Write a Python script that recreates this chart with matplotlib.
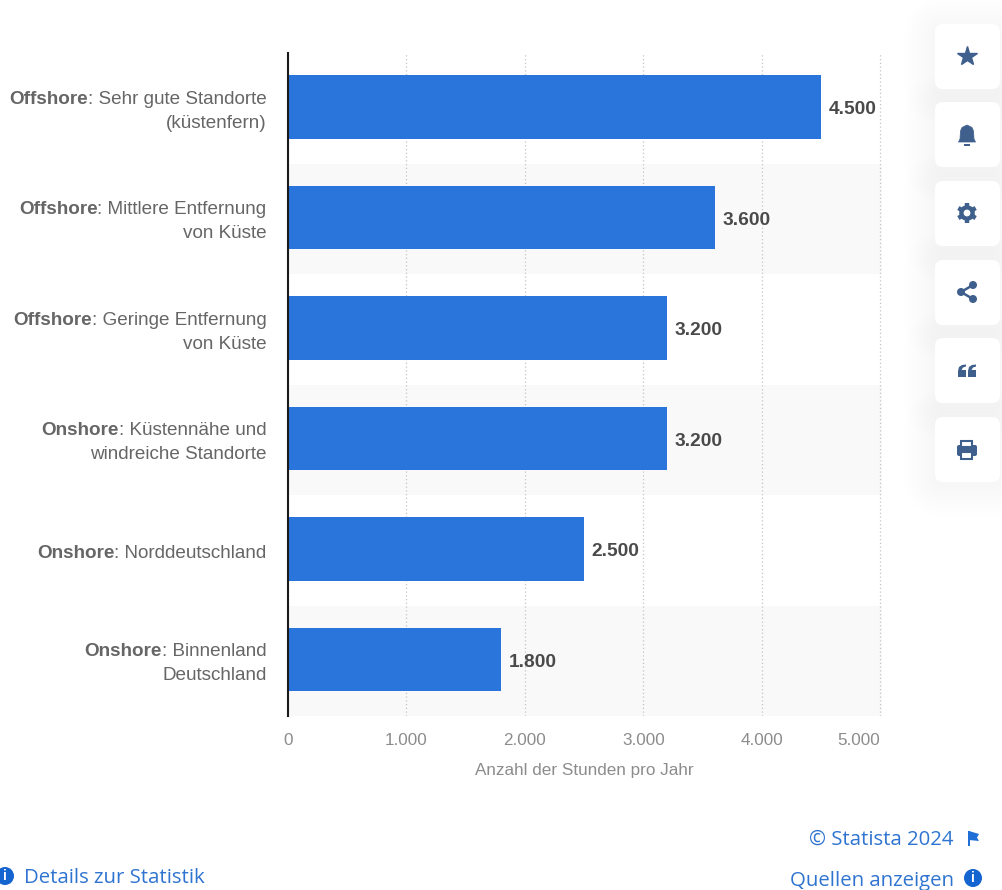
import matplotlib
matplotlib.use('Agg')
import matplotlib.pyplot as plt
from matplotlib.patches import Circle, FancyBboxPatch, Polygon, Rectangle
import numpy as np

# Volllaststunden je Standort
site_type = ['Offshore', 'Offshore', 'Offshore', 'Onshore', 'Onshore', 'Onshore']
site_line1 = [': Sehr gute Standorte', ': Mittlere Entfernung', ': Geringe Entfernung',
              ': Küstennähe und', ': Norddeutschland', ': Binnenland']
site_line2 = ['(küstenfern)', 'von Küste', 'von Küste', 'windreiche Standorte', '', 'Deutschland']
hours = [4500, 3600, 3200, 3200, 2500, 1800]
x_ticks = [0, 1000, 2000, 3000, 4000, 5000]
x_tick_labels = ['0', '1.000', '2.000', '3.000', '4.000', '5.000']

BLUE = '#2a75dc'
LINK = '#2f74d0'
ICON = '#3f5f8c'
W, H = 1002, 890

plt.rcParams['font.family'] = ['Liberation Sans', 'DejaVu Sans']

fig = plt.figure(figsize=(W / 100, H / 100), dpi=100, facecolor='white')

# overlay in pixel coordinates for the side buttons and footer
overlay = fig.add_axes([0, 0, 1, 1], zorder=0)
overlay.set_xlim(0, W)
overlay.set_ylim(H, 0)
overlay.axis('off')

ax = fig.add_axes([288 / W, 1 - 716 / H, (882 - 288) / W, (716 - 53) / H], zorder=1)
ax.patch.set_alpha(0)

# alternating row bands
for i in range(1, len(hours), 2):
    ax.axhspan(i - 0.5, i + 0.5, color='#f9f9f9', lw=0, zorder=0)

# bars sit a touch above the middle of their row
bar_pos = np.arange(len(hours)) - 0.012
ax.barh(bar_pos, hours, height=0.572, color=BLUE, zorder=2)
ax.set_xlim(0, 5013)
ax.set_ylim(5.5, -0.5)

ax.set_xticks(x_ticks)
ax.set_xticklabels(x_tick_labels, fontsize=12.3, color='#8c8c8c')
# the last tick label stays inside the plot area
ax.get_xticklabels()[-1].set_ha('right')
ax.set_yticks([])
ax.tick_params(axis='x', length=0, pad=12.5)
ax.set_xlabel('Anzahl der Stunden pro Jahr', fontsize=12.3, color='#8c8c8c', labelpad=10.5, x=0.499)
ax.grid(axis='x', color='#c4c4c4', linestyle=(0, (1, 2)), linewidth=0.9, zorder=1)
ax.set_axisbelow(True)

for side in ['top', 'right', 'bottom']:
    ax.spines[side].set_visible(False)
ax.spines['left'].set_color('#1a1a1a')
ax.spines['left'].set_linewidth(1.5)
ax.spines['left'].set_zorder(5)

# value labels behind the bar ends
for i, v in enumerate(hours):
    ax.annotate(f'{v:,}'.replace(',', '.'), (v, i), xytext=(5.5, -1), textcoords='offset points',
                va='center', ha='left', fontsize=13.8, fontweight='bold', color='#4a4a4a', zorder=6)

# category labels, bold site type in front of the regular description
renderer = fig.canvas.get_renderer()
right_pt = -21.5 * 0.72
for i in range(len(hours)):
    if site_line2[i]:
        y1, y2 = -9, 15
    else:
        y1, y2 = 3, 3
    rest = ax.annotate(site_line1[i], (0, i), xycoords=('axes fraction', 'data'),
                       xytext=(right_pt, -y1 * 0.72), textcoords='offset points',
                       ha='right', va='center', fontsize=13.6, color='#666666', annotation_clip=False)
    width = rest.get_window_extent(renderer).width * 0.72
    ax.annotate(site_type[i], (0, i), xycoords=('axes fraction', 'data'),
                xytext=(right_pt - width, -y1 * 0.72), textcoords='offset points',
                ha='right', va='center', fontsize=13.6, fontweight='bold', color='#666666',
                annotation_clip=False)
    if site_line2[i]:
        ax.annotate(site_line2[i], (0, i), xycoords=('axes fraction', 'data'),
                    xytext=(right_pt, -y2 * 0.72), textcoords='offset points',
                    ha='right', va='center', fontsize=13.6, color='#666666', annotation_clip=False)

# side buttons with a soft shadow
button_tops = [24, 102, 181, 260, 338, 417]
for top in button_tops:
    for grow in [30, 26, 22, 18, 14, 10, 6, 3]:
        overlay.add_patch(FancyBboxPatch((935 - grow, top + 4 - grow), 65 + 2 * grow, 65 + 2 * grow,
                                         boxstyle=f'round,pad=0,rounding_size={10 + grow}',
                                         fc='#3a4a70', ec='none', alpha=0.004, zorder=1))
for top in button_tops:
    overlay.add_patch(FancyBboxPatch((935, top), 65, 65, boxstyle='round,pad=0,rounding_size=8',
                                     fc='white', ec='none', zorder=2))

# star
overlay.plot([967], [56], marker='*', ms=15, color=ICON, mec=ICON, mew=1, zorder=3)

# bell
overlay.add_patch(Polygon([(958.5, 142), (960, 139), (960.5, 131), (962, 127.5), (967, 125), (972, 127.5),
                           (973.5, 131), (974, 139), (975.5, 142)], closed=True, fc=ICON, ec=ICON,
                          lw=0.5, joinstyle='round', zorder=3))
overlay.add_patch(Rectangle((964, 144), 6, 2, fc=ICON, ec='none', zorder=3))

# gear
for deg in range(0, 180, 60):
    a = np.radians(deg + 30)
    overlay.plot([967 - 10 * np.cos(a), 967 + 10 * np.cos(a)],
                 [213 - 10 * np.sin(a), 213 + 10 * np.sin(a)],
                 color=ICON, lw=3.2, solid_capstyle='butt', zorder=3)
overlay.add_patch(Circle((967, 213), 7.8, fc=ICON, ec='none', zorder=3))
overlay.add_patch(Circle((967, 213), 3.4, fc='white', ec='none', zorder=4))

# share
overlay.plot([973, 961, 973], [285, 292, 299], color=ICON, lw=1.8, zorder=3)
for cx, cy in [(973, 285), (961, 292), (973, 299)]:
    overlay.add_patch(Circle((cx, cy), 4, fc=ICON, ec='none', zorder=4))

# quotation mark
for x0 in [958, 968]:
    overlay.add_patch(Polygon([(x0, 371), (x0 + 1, 367), (x0 + 4, 365), (x0 + 8, 364.5), (x0 + 8, 366.5),
                               (x0 + 5, 367.5), (x0 + 3.5, 370), (x0 + 8, 370), (x0 + 8, 377), (x0, 377)],
                              closed=True, fc=ICON, ec='none', zorder=3))

# printer
overlay.add_patch(FancyBboxPatch((957, 445), 20, 11, boxstyle='round,pad=0,rounding_size=2',
                                 fc=ICON, ec='none', zorder=3))
overlay.add_patch(Rectangle((961.5, 440.5), 11, 6, fc='white', ec=ICON, lw=1.5, zorder=3))
overlay.add_patch(Rectangle((961.5, 452), 11, 6.5, fc='white', ec=ICON, lw=1.5, zorder=4))

# footer links
overlay.text(954, 840, '© Statista 2024', family='Open Sans', fontsize=14.7, color=LINK,
             ha='right', va='center')
overlay.text(954, 881, 'Quellen anzeigen', family='Open Sans', fontsize=14.7, color=LINK,
             ha='right', va='center')
overlay.text(24, 878, 'Details zur Statistik', family='Open Sans', fontsize=14.7, color=LINK,
             ha='left', va='center')

# flag
overlay.add_patch(Rectangle((968, 831), 2, 15, fc='#1f6fd6', ec='none', zorder=3))
overlay.add_patch(Polygon([(969, 831), (979, 834), (977, 837.5), (979, 841), (969, 840)], closed=True,
                          fc='#1f6fd6', ec='none', zorder=3))

# info badges
for cx, cy in [(973, 878), (5, 876)]:
    overlay.add_patch(Circle((cx, cy), 9, fc='#1565d0', ec='none', zorder=3))
    overlay.text(cx, cy + 0.5, 'i', color='white', fontsize=10, fontweight='bold', ha='center',
                 va='center', zorder=4)

fig.savefig('out.png', dpi=100)
